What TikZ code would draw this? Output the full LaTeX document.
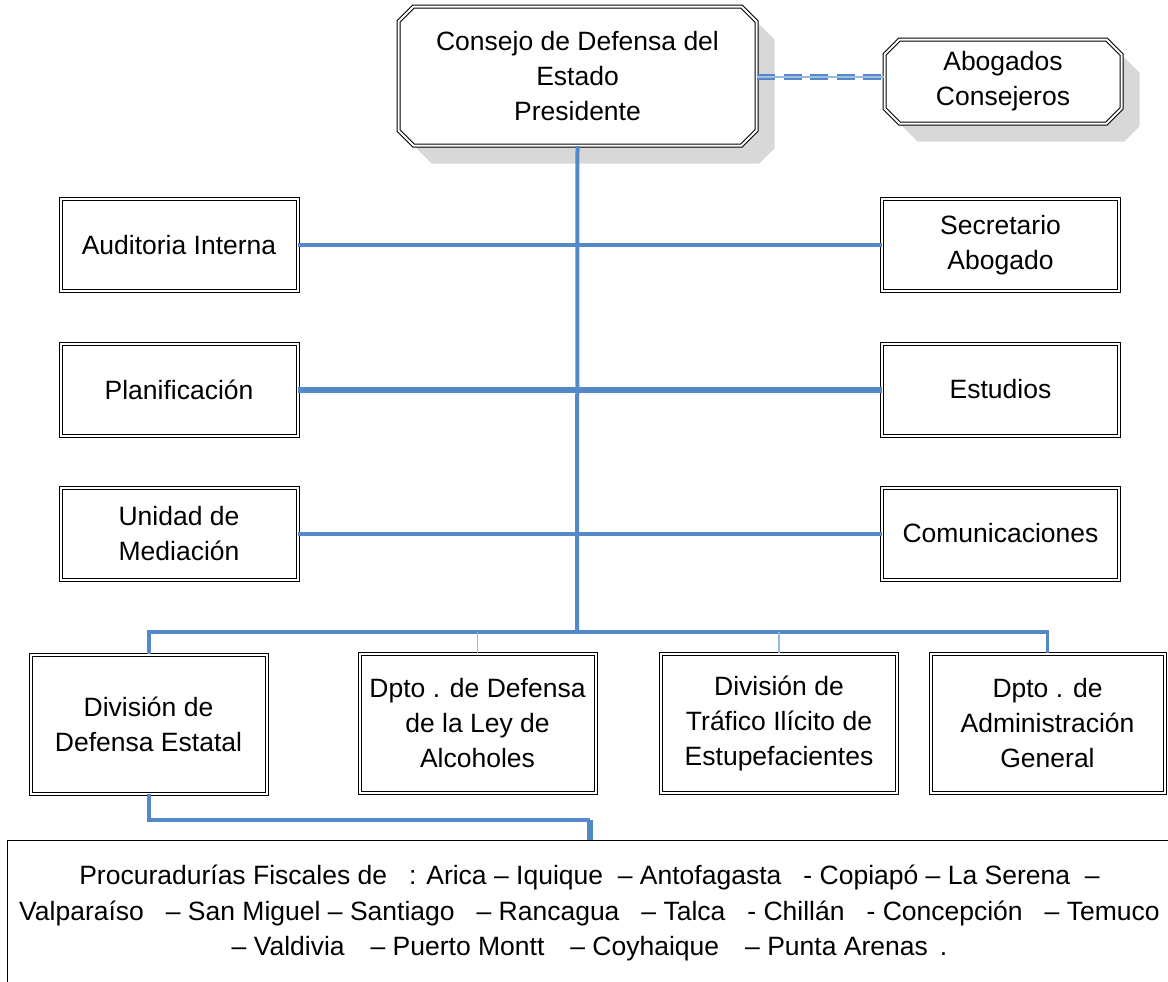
\documentclass[tikz,border=0pt]{standalone}
\usepackage{fontspec}
\setmainfont{Liberation Sans}
\usetikzlibrary{shapes.misc,shadows}
\definecolor{cblue}{RGB}{84,136,200}
\definecolor{lblue}{RGB}{150,185,225}
\definecolor{shgray}{RGB}{216,216,216}
\tikzset{
 box/.style={draw=black, double=white, double distance=1pt, line width=0.5pt, fill=white, align=center, font=\fontsize{13.25}{17.5}\selectfont, inner sep=0pt},
 cbox/.style={box, chamfered rectangle, chamfered rectangle xsep=4pt, drop shadow={shadow xshift=9pt, shadow yshift=-9pt, fill=shgray, opacity=1}},
 sidebox/.style={box, minimum width=118.5pt, minimum height=46pt},
 lowbox/.style={box, minimum width=118pt, minimum height=69.5pt},
 conn/.style={draw=cblue, line width=2pt},
 connmid/.style={draw=cblue, line width=1.6pt},
 connthick/.style={draw=cblue, line width=3pt},
 connthin/.style={draw=lblue, line width=0.8pt},
}
\begin{document}
\begin{tikzpicture}[x=0.5pt,y=-0.5pt]
\useasboundingbox (0,0) rectangle (1168,981);
\clip (0,0) rectangle (1168,981);
% top boxes
\node[cbox, minimum width=179pt, minimum height=69.5pt] (top) at (577.5,76) {Consejo de Defensa del\\Estado\\Presidente};
\node[cbox, minimum width=118.5pt, minimum height=42pt] (abog) at (1003,81.5) {Abogados\\Consejeros};
% side boxes
\node[sidebox] (aud) at (179,245) {Auditoria Interna};
\node[sidebox] (sec) at (1000.5,245) {Secretario\\Abogado};
\node[sidebox] (plan) at (179,389.5) {Planificación};
\node[sidebox] (est) at (1000.5,389.5) {Estudios};
\node[sidebox] (uni) at (179,533.5) {Unidad de\\Mediación};
\node[sidebox] (com) at (1000.5,533.5) {Comunicaciones};
% lower boxes
\node[lowbox] (d1) at (148.5,724) {División de\\Defensa Estatal};
\node[lowbox] (d2) at (477.5,723) {Dpto . de Defensa\\de la Ley de\\Alcoholes};
\node[lowbox] (d3) at (779,723) {División de\\Tráfico Ilícito de\\Estupefacientes};
\node[lowbox, minimum width=117pt] (d4) at (1047.5,723) {Dpto . de\\Administración\\General};
% bottom box
\node[draw=black, line width=0.5pt, fill=white, minimum width=582.5pt, minimum height=73pt, inner sep=0pt, align=center, font=\fontsize{13.25}{17.75}\selectfont] (proc) at (589.5,913)
 {Procuradurías Fiscales de\ \ \ : Arica – Iquique\ \ – Antofagasta\ \ \ - Copiapó – La Serena\ \ –\\
  Valparaíso\hspace{11pt}– San Miguel – Santiago\hspace{11pt}– Rancagua\hspace{11pt}– Talca\hspace{11pt}- Chillán\hspace{11pt}- Concepción\hspace{11pt}– Temuco\\
  – Valdivia\hspace{13pt}– Puerto Montt\hspace{13pt}– Coyhaique\hspace{13pt}– Punta Arenas\hspace{6pt}.};
% connectors
\coordinate (j) at (577,632);
\draw[conn] (top.south) -- (j);
\draw[conn] (aud.east) -- (sec.west);
\draw[connthick] (plan.east) -- (est.west);
\draw[conn] (uni.east) -- (com.west);
\draw[conn] (d1.north) |- (j);
\draw[connmid] (j) -| (d4.north);
\draw[connthin] (d2.north) -- (d2.north |- j);
\draw[connthin] (d3.north) -- (d3.north |- j);
\coordinate (k) at (proc.north |- 0,820);
\draw[conn] (d1.south) |- (k);
\draw[connthick] (k) -- (proc.north);
% dashed link
\coordinate (as) at ([yshift=-0.5pt]top.east);
\coordinate (ae) at (as -| abog.west);
\draw[lblue, line width=0.6pt] (as) -- (ae);
\draw[cblue, line width=3.2pt, dash pattern=on 9pt off 4.3pt] (as) -- (ae);
\draw[cblue!55!white, line width=0.7pt, dash pattern=on 9pt off 4.3pt] (as) -- (ae);
\end{tikzpicture}
\end{document}
